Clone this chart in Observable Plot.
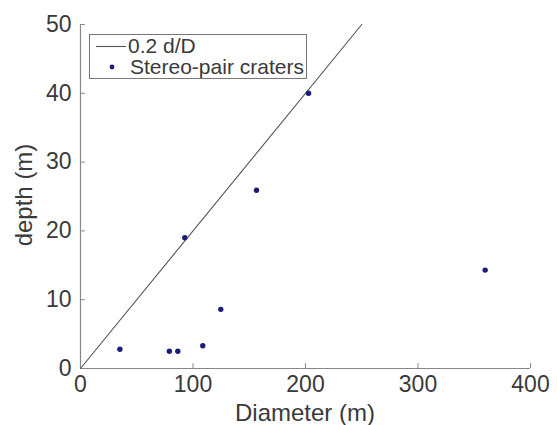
<!DOCTYPE html>
<html>
<head>
<meta charset="utf-8">
<script src="https://cdn.jsdelivr.net/npm/d3@7"></script>
<script src="https://cdn.jsdelivr.net/npm/@observablehq/plot@0.6"></script>
<style>
  body { margin: 0; background: #fff; }
  #chart { position: relative; width: 557px; height: 425px; }
</style>
</head>
<body>
<div id="chart"></div>
<script>
const diameter = [35, 79, 86.5, 108.7, 124.7, 92.7, 156.4, 202.7, 359.7];
const depth    = [2.8, 2.5, 2.5, 3.3, 8.6, 19.0, 25.9, 40.0, 14.3];
const lineD = [0, 250];
const ratio = 0.2;
const xTicks = [0, 100, 200, 300, 400];
const yTicks = [0, 10, 20, 30, 40, 50];
const legendLabels = ["0.2 d/D", "Stereo-pair craters"];

const craters = diameter.map((d, i) => ({D: d, d: depth[i]}));
const line = lineD.map(D => ({D, d: ratio * D}));

const font = "Helvetica, 'Liberation Sans', Arial, sans-serif";
const plot = Plot.plot({
  width: 557,
  height: 425,
  marginLeft: 80,
  marginRight: 27,
  marginTop: 24,
  marginBottom: 57,
  style: {fontFamily: font, fontSize: "23px", color: "#3a3a3a", background: "#fff", overflow: "visible"},
  x: {domain: [0, 400]},
  y: {domain: [0, 50]},
  marks: [
    Plot.ruleX([0], {stroke: "#888", strokeWidth: 1.2}),
    Plot.ruleY([0], {stroke: "#888", strokeWidth: 1.2}),
    Plot.ruleX(xTicks, {y1: 0, y2: 0.7, stroke: "#888", strokeWidth: 1}),
    Plot.ruleY(yTicks, {x1: 0, x2: 4.4, stroke: "#888", strokeWidth: 1}),
    Plot.axisX(xTicks, {tickSize: 0, tickPadding: 7, fill: "#3a3a3a", label: null}),
    Plot.axisY(yTicks, {tickSize: 0, tickPadding: 9, fill: "#3a3a3a", label: null}),
    Plot.line(line, {x: "D", y: "d", stroke: "#555", strokeWidth: 1.1}),
    Plot.dot(craters, {x: "D", y: "d", r: 2.7, fill: "#1c1c7a", stroke: null})
  ]
});
document.getElementById("chart").appendChild(plot);

const svg = d3.select(plot);
// axis labels
svg.append("text").attr("x", 305).attr("y", 421).attr("text-anchor", "middle")
  .attr("font-family", font).attr("font-size", 24).attr("fill", "#3a3a3a").text("Diameter (m)");
svg.append("text").attr("transform", "translate(32,195) rotate(-90)").attr("text-anchor", "middle")
  .attr("font-family", font).attr("font-size", 24).attr("fill", "#3a3a3a").text("depth (m)");

// legend
const lg = svg.append("g").attr("text-anchor", "start");
lg.append("rect").attr("x", 89.5).attr("y", 34.5).attr("width", 217).attr("height", 44)
  .attr("fill", "#fff").attr("stroke", "#777").attr("stroke-width", 1);
lg.append("line").attr("x1", 96).attr("x2", 126).attr("y1", 46.5).attr("y2", 46.5)
  .attr("stroke", "#555").attr("stroke-width", 1.1);
lg.append("text").attr("x", 128).attr("y", 53).attr("text-anchor", "start").attr("font-family", font).attr("font-size", 21)
  .attr("fill", "#3a3a3a").text(legendLabels[0]);
lg.append("circle").attr("cx", 112).attr("cy", 67).attr("r", 2.4).attr("fill", "#1c1c7a");
lg.append("text").attr("x", 130).attr("y", 74).attr("text-anchor", "start").attr("font-family", font).attr("font-size", 21)
  .attr("fill", "#3a3a3a").text(legendLabels[1]);
</script>
</body>
</html>
